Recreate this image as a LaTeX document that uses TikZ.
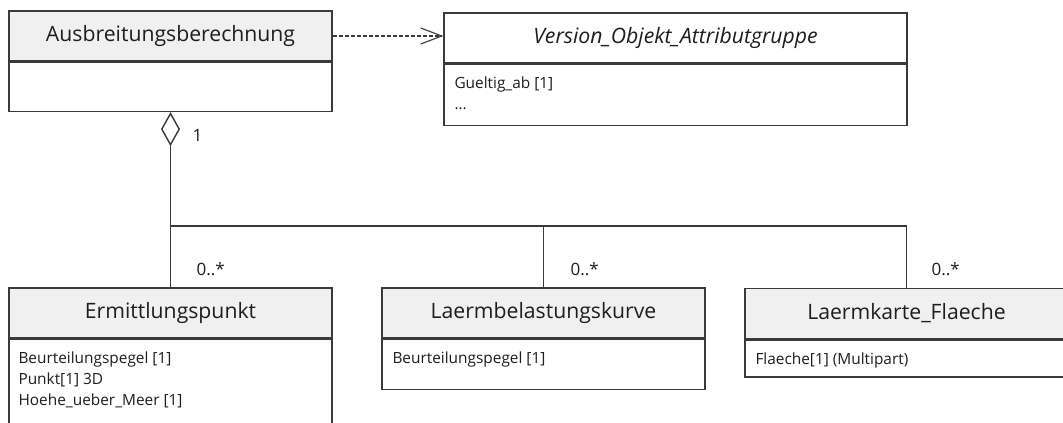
\documentclass[tikz,border=0pt]{standalone}
\usepackage{fontspec}
\setmainfont{Open Sans}
\usetikzlibrary{positioning,arrows.meta}

\definecolor{headfill}{HTML}{F0F0F0}
\definecolor{umlline}{HTML}{3A3A3A}
\definecolor{umltext}{HTML}{1E1E1E}
\newcommand{\titlesize}{\fontsize{21.2}{25}\selectfont}
\newcommand{\attrsize}{\fontsize{15.4}{21}\selectfont}
\newcommand{\multsize}{\fontsize{17}{20}\selectfont}

\begin{document}
\begin{tikzpicture}[x=1pt,y=-1pt,
    classhead/.style={draw=umlline, line width=1.4pt, fill=headfill, text=umltext,
      minimum width=323pt, minimum height=50pt, inner sep=0pt, font=\titlesize},
    classbody/.style={draw=umlline, line width=1.4pt, fill=white, minimum width=323pt, inner sep=0pt},
    attrs/.style={align=left, anchor=north west, inner sep=0pt, text=umltext, font=\attrsize},
    mult/.style={anchor=base west, inner sep=0pt, text=umltext, font=\multsize},
    link/.style={draw=umlline, line width=1.4pt}]
  \useasboundingbox (0,0) rectangle (1063,423);
  \clip (0,0) rectangle (1063,423);

  % top row
  \node[classhead] (ab) at (170.5,36) {Ausbreitungsberechnung};
  \node[classbody, minimum height=49pt, below=0pt of ab] (ab-b) {};

  \node[classhead, fill=white, minimum width=463pt, font=\titlesize\itshape] (vo) at (675.5,38) {Version\_Objekt\_Attributgruppe};
  \node[classbody, minimum width=463pt, minimum height=61pt, below=0pt of vo] (vo-b) {};
  \node[attrs] (vo-a) at ([xshift=11pt, yshift=-13pt]vo-b.north west) {Gueltig\_ab [1]\\...};

  % bottom row
  \node[classhead] (ep) at (170.5,313) {Ermittlungspunkt};
  \node[classbody, minimum height=110pt, below=0pt of ep] (ep-b) {};
  \node[attrs] (ep-a) at ([xshift=10pt, yshift=-13pt]ep-b.north west) {Beurteilungspegel [1]\\Punkt[1] 3D\\Hoehe\_ueber\_Meer [1]};

  \node[classhead] (lk) at (543.5,313) {Laermbelastungskurve};
  \node[classbody, minimum height=50pt, below=0pt of lk] (lk-b) {};
  \node[attrs] (lk-a) at ([xshift=11pt, yshift=-13pt]lk-b.north west) {Beurteilungspegel [1]};

  \node[classhead] (lf) at (906.5,313.5) {Laermkarte\_Flaeche};
  \node[classbody, minimum height=37pt, below=0pt of lf] (lf-b) {};
  \node[attrs] (lf-a) at ([xshift=11pt, yshift=-13pt]lf-b.north west) {Flaeche[1] (Multipart)};

  % dependency
  \draw[link, dash pattern=on 4pt off 2pt, -{Straight Barb[length=21pt, width=16pt, line width=1.1pt]}]
    (ab.east) -- (ab.east -| vo.west);

  % aggregation with its three branches
  \coordinate (bus) at (0,226);
  \draw[link, {Diamond[open, length=34pt, width=19pt]}-] (ab-b.south) -- (ep.north);
  \draw[link] (ep.north |- bus) -- (lf.north |- bus) -- (lf.north);
  \draw[link] (lk.north |- bus) -- (lk.north);

  \node[mult] (m-ab) at ([xshift=22pt, yshift=-29pt]ab-b.south) {1};
  \node[mult] (m-ep) at ([xshift=26pt, yshift=12pt]ep.north) {0..*};
  \node[mult] (m-lk) at ([xshift=27pt, yshift=12pt]lk.north) {0..*};
  \node[mult] (m-lf) at ([xshift=25pt, yshift=12pt]lf.north) {0..*};
\end{tikzpicture}
\end{document}
